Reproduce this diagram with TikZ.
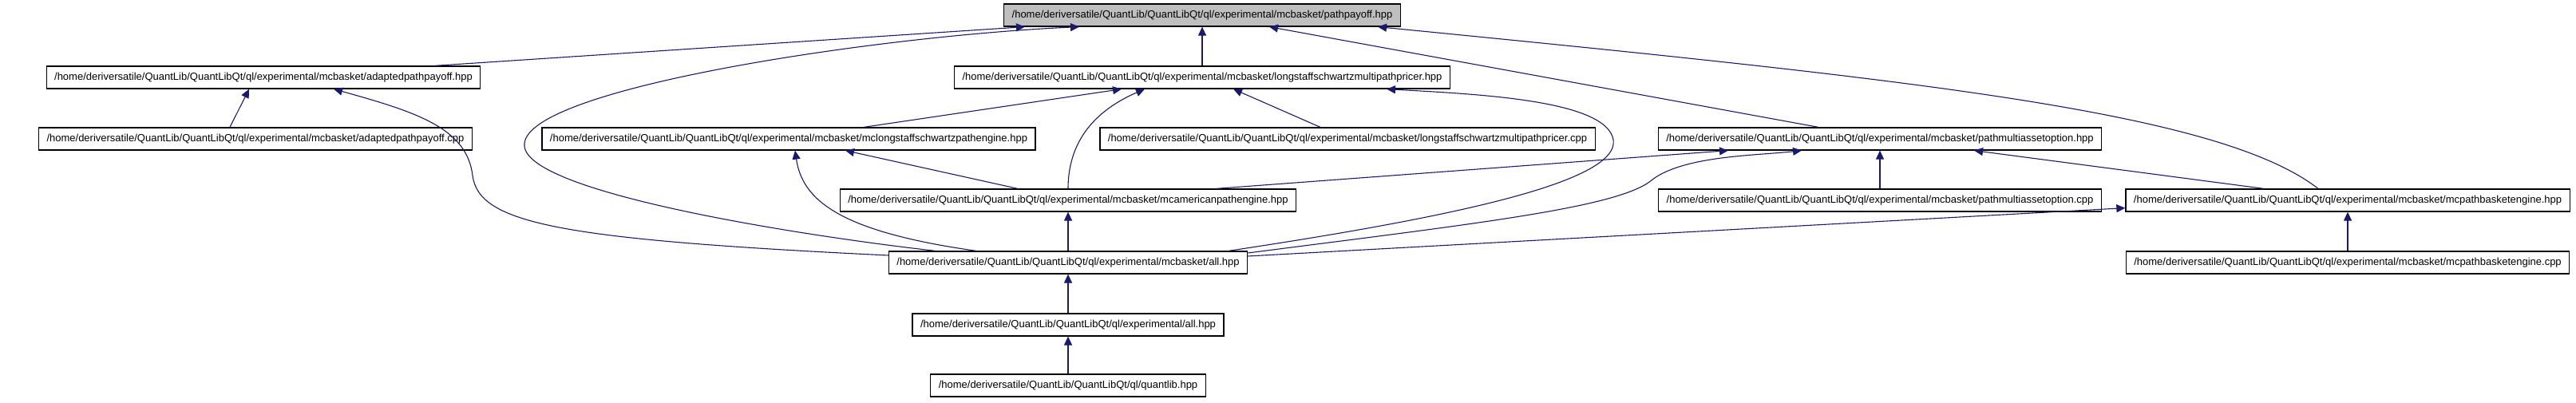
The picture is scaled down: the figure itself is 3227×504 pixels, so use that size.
\documentclass[tikz,border=0pt]{standalone}
\usepackage{fontspec}
\setmainfont{Liberation Sans}
\usetikzlibrary{arrows.meta}

\definecolor{edgeblue}{HTML}{191970}
\definecolor{rootgray}{HTML}{BFBFBF}

\newcommand{\qlroot}{/home/deriversatile/QuantLib/QuantLibQt/ql}
\newcommand{\mcbdir}{\qlroot/experimental/mcbasket}

\tikzset{
  file/.style={draw=black, line width=1.2pt, inner xsep=10pt, inner ysep=0pt,
    minimum height=28pt, font=\fontsize{13}{15}\selectfont},
  rootfile/.style={file, fill=rootgray},
  dep/.style={draw=edgeblue, line width=1.1pt, -{Triangle[length=11pt,width=10pt]}}
}

\begin{document}
\begin{tikzpicture}[x=1pt, y=-1pt]

\useasboundingbox (0,0) rectangle (3227,504);

% files, one row per rank
\node[rootfile] (pp)   at (1506,19)  {\mcbdir/pathpayoff.hpp};
\node[file]     (aph)  at (330,97)   {\mcbdir/adaptedpathpayoff.hpp};
\node[file]     (lsh)  at (1506,97)  {\mcbdir/longstaffschwartzmultipathpricer.hpp};
\node[file]     (apc)  at (320,174)  {\mcbdir/adaptedpathpayoff.cpp};
\node[file]     (mcl)  at (988,174)  {\mcbdir/mclongstaffschwartzpathengine.hpp};
\node[file]     (lsc)  at (1688,174) {\mcbdir/longstaffschwartzmultipathpricer.cpp};
\node[file]     (pmh)  at (2355,174) {\mcbdir/pathmultiassetoption.hpp};
\node[file]     (mca)  at (1338,251) {\mcbdir/mcamericanpathengine.hpp};
\node[file]     (pmc)  at (2355,251) {\mcbdir/pathmultiassetoption.cpp};
\node[file]     (mpbh) at (2941,251) {\mcbdir/mcpathbasketengine.hpp};
\node[file]     (all)  at (1338,329) {\mcbdir/all.hpp};
\node[file]     (mpbc) at (2941,329) {\mcbdir/mcpathbasketengine.cpp};
\node[file]     (exp)  at (1338,407) {\qlroot/experimental/all.hpp};
\node[file]     (ql)   at (1338,483) {\qlroot/quantlib.hpp};

% straight down the columns
\foreach \a/\b in {lsh/pp, pmc/pmh, all/mca, mpbc/mpbh, exp/all, ql/exp}
  \draw[dep] (\a) -- (\b);

% into pathpayoff.hpp
\draw[dep] ([xshift=214pt]aph.north) -- ([xshift=-222pt]pp.south);
\draw[dep] ([xshift=-166pt]all.north) .. controls (1000,295) and (650,240) .. (657,180)
  .. controls (662,110) and (1100,45) .. ([xshift=-154pt]pp.south);
\draw[dep] ([xshift=-77pt]pmh.north) -- ([xshift=84pt]pp.south);
\draw[dep] ([xshift=-37pt]mpbh.north) .. controls (2780,140) and (2400,100) .. ([xshift=220pt]pp.south);

% into longstaffschwartzmultipathpricer.hpp
\draw[dep] ([xshift=94pt]mcl.north) -- ([xshift=-101pt]lsh.south);
\draw[dep] (mca.north) .. controls (1338,170) and (1380,135) .. ([xshift=-72pt]lsh.south);
\draw[dep] ([xshift=-34pt]lsc.north) -- ([xshift=39pt]lsh.south);
\draw[dep] ([xshift=201pt]all.north) .. controls (1800,275) and (2030,230) .. (2021,175)
  .. controls (2012,125) and (1850,118) .. ([xshift=231pt]lsh.south);

% into adaptedpathpayoff.hpp
\draw[dep] ([xshift=-32pt]apc.north) -- ([xshift=-18pt]aph.south);
\draw[dep] ([yshift=9pt]all.west) .. controls (700,300) and (600,280) .. (592,220)
  .. controls (585,160) and (520,140) .. ([xshift=88pt]aph.south);

% into mclongstaffschwartzpathengine.hpp
\draw[dep] ([xshift=-63pt]mca.north) -- ([xshift=71pt]mcl.south);
\draw[dep] ([xshift=-115pt]all.north) .. controls (1050,290) and (1005,250) .. ([xshift=8pt]mcl.south);

% into pathmultiassetoption.hpp
\draw[dep] ([xshift=185pt]mca.north) -- ([xshift=-190pt]pmh.south);
\draw[dep] ([yshift=12pt]all.east) .. controls (1850,280) and (2030,260) .. (2070,225)
  .. controls (2110,195) and (2200,195) .. ([xshift=-98pt]pmh.south);
\draw[dep] ([xshift=-105pt]mpbh.north) -- ([xshift=118pt]pmh.south);

% into mcpathbasketengine.hpp
\draw[dep] ([yshift=8pt]all.east) -- ([yshift=5pt]mpbh.south west);

\end{tikzpicture}
\end{document}
